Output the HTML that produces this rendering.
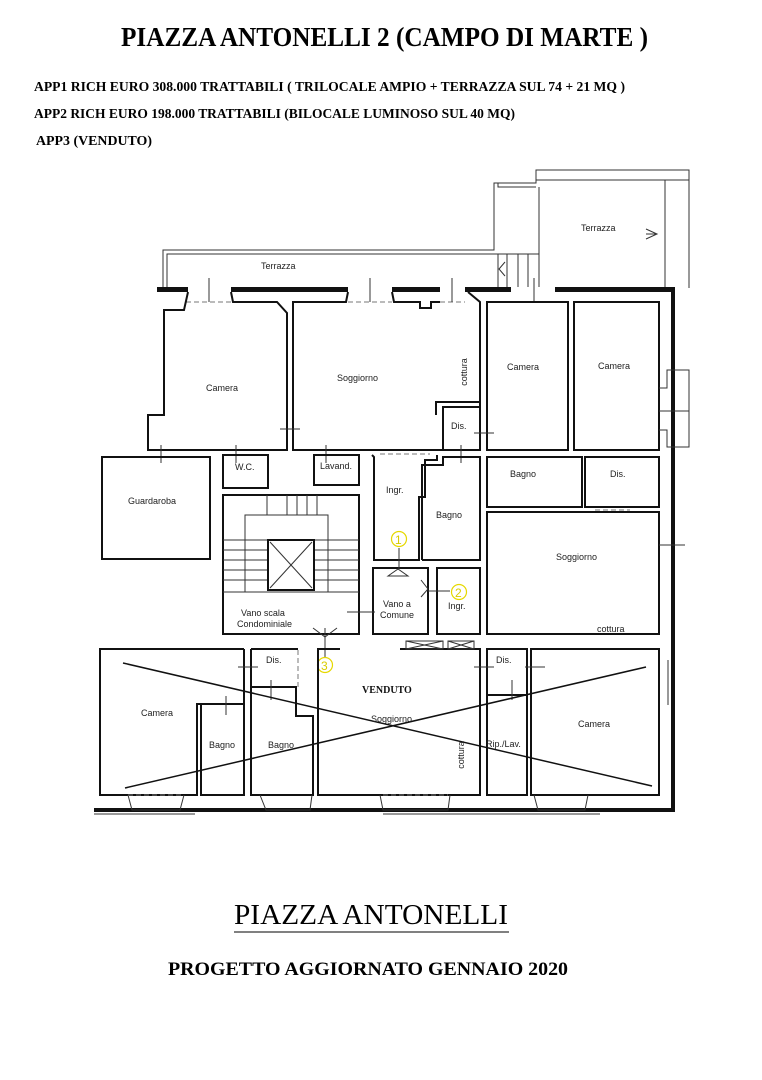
<!DOCTYPE html>
<html><head><meta charset="utf-8"><style>
html,body{margin:0;padding:0;background:#fff;width:762px;height:1080px;overflow:hidden}
svg{display:block}
.t{font-family:"Liberation Serif",serif;font-weight:bold;fill:#000}
.l{font-family:"Liberation Sans",sans-serif;font-size:9px;fill:#222}
.w{fill:none;stroke:#111;stroke-width:2}
.th{fill:none;stroke:#333;stroke-width:1}
.d{fill:none;stroke:#777;stroke-width:1;stroke-dasharray:5,3}
.y{fill:none;stroke:#e6d800;stroke-width:1.2}
.yt{font-family:"Liberation Sans",sans-serif;font-size:12px;fill:#d9cc00}
</style></head><body>
<svg width="762" height="1080" viewBox="0 0 762 1080" xmlns="http://www.w3.org/2000/svg">
<text class="t" x="121" y="46" font-size="27" textLength="527" lengthAdjust="spacingAndGlyphs">PIAZZA ANTONELLI 2 (CAMPO DI MARTE )</text>
<text class="t" x="34" y="91" font-size="13.5" textLength="591" lengthAdjust="spacingAndGlyphs">APP1 RICH EURO 308.000 TRATTABILI ( TRILOCALE AMPIO + TERRAZZA SUL 74 + 21 MQ )</text>
<text class="t" x="34" y="118" font-size="13.5" textLength="481" lengthAdjust="spacingAndGlyphs">APP2 RICH EURO 198.000 TRATTABILI (BILOCALE LUMINOSO SUL 40 MQ)</text>
<text class="t" x="36" y="145" font-size="13.5" textLength="116" lengthAdjust="spacingAndGlyphs">APP3 (VENDUTO)</text>

<!-- terraces -->
<polyline class="th" points="163,287 163,250 494,250 494,183 536,183 536,170 689,170 689,288"/>
<polyline class="th" points="167,287 167,254 498,254 498,287"/>
<polyline class="th" points="498,183 498,187 536,187"/>
<line class="th" x1="536" y1="180" x2="689" y2="180"/>
<line class="th" x1="539" y1="187" x2="539" y2="287"/>
<line class="th" x1="665" y1="180" x2="665" y2="287"/>
<line class="th" x1="498" y1="254" x2="539" y2="254"/>
<g class="th"><line x1="507" y1="254" x2="507" y2="287"/><line x1="518" y1="254" x2="518" y2="287"/><line x1="528" y1="254" x2="528" y2="287"/></g>
<polyline class="th" points="505,262 499,269 505,276"/>
<polyline class="th" points="646,229 657,234 646,239"/><line class="th" x1="646" y1="234" x2="657" y2="234"/>
<text class="l" x="261" y="269">Terrazza</text>
<text class="l" x="581" y="231">Terrazza</text>

<!-- outer walls -->
<g fill="#111">
<rect x="157" y="287" width="31" height="5"/><rect x="231" y="287" width="117" height="5"/>
<rect x="392" y="287" width="48" height="5"/><rect x="465" y="287" width="46" height="5"/>
<rect x="555" y="287" width="120" height="5"/>
<rect x="671" y="287" width="4" height="525"/>
<rect x="94" y="808" width="581" height="4"/>
</g>
<g class="d"><line x1="186" y1="302" x2="233" y2="302"/><line x1="348" y1="302" x2="392" y2="302"/><line x1="440" y1="302" x2="465" y2="302"/><line x1="511" y1="302" x2="555" y2="302"/></g>
<g class="th"><line x1="209" y1="278" x2="209" y2="302"/><line x1="370" y1="278" x2="370" y2="302"/><line x1="452" y1="278" x2="452" y2="302"/><line x1="534" y1="278" x2="534" y2="302"/></g>

<!-- upper rooms -->
<polyline class="w" points="188,292 184,310 164,310 164,415 148,415 148,450 287,450 287,313 277,302 233,302 231,292"/>
<polyline class="w" points="348,292 346,302 293,302 293,450 480,450 480,302 468,292"/>
<polyline class="w" points="392,292 394,302 420,302 420,308 431,308 431,302 440,302"/>
<polyline class="w" points="480,402 436,402 436,415"/>
<rect class="w" x="443" y="407" width="37" height="43"/>
<rect class="w" x="487" y="302" width="81" height="148"/>
<rect class="w" x="574" y="302" width="85" height="148"/>
<polyline class="th" points="659,388 667,388 667,370 689,370 689,447 667,447 667,430 659,430"/>
<line class="th" x1="659" y1="411" x2="689" y2="411"/>
<g class="th"><line x1="280" y1="429" x2="300" y2="429"/><line x1="474" y1="433" x2="494" y2="433"/><line x1="161" y1="445" x2="161" y2="463"/><line x1="236" y1="445" x2="236" y2="463"/><line x1="326" y1="445" x2="326" y2="463"/><line x1="461" y1="445" x2="461" y2="463"/></g>
<text class="l" x="206" y="391">Camera</text>
<text class="l" x="337" y="381">Soggiorno</text>
<text class="l" x="467" y="372" transform="rotate(-90 467 372)" text-anchor="middle">cottura</text>
<text class="l" x="507" y="370">Camera</text>
<text class="l" x="598" y="369">Camera</text>
<text class="l" x="451" y="429">Dis.</text>

<!-- middle -->
<rect class="w" x="102" y="457" width="108" height="102"/>
<rect class="w" x="223" y="455" width="45" height="33"/>
<rect class="w" x="314" y="455" width="45" height="30"/>
<polyline class="w" points="372,455 374,457 374,560 419,560 419,497 425,497 425,460 437,460 437,455"/>
<polyline class="w" points="422,560 480,560 480,457 443,457 443,465 422,465 422,560"/>
<line class="d" x1="380" y1="454" x2="430" y2="454"/>
<rect class="w" x="487" y="457" width="95" height="50"/>
<rect class="w" x="585" y="457" width="74" height="50"/>
<line class="d" x1="595" y1="510" x2="630" y2="510"/>
<text class="l" x="128" y="504">Guardaroba</text>
<text class="l" x="235" y="470">W.C.</text>
<text class="l" x="320" y="469">Lavand.</text>
<text class="l" x="386" y="493">Ingr.</text>
<text class="l" x="436" y="518">Bagno</text>
<text class="l" x="510" y="477">Bagno</text>
<text class="l" x="610" y="477">Dis.</text>

<!-- stairwell -->
<rect class="w" x="223" y="495" width="136" height="139"/>
<rect class="th" x="245" y="515" width="83" height="77"/>
<g class="th">
<line x1="223" y1="540" x2="359" y2="540"/><line x1="223" y1="550" x2="268" y2="550"/><line x1="223" y1="560" x2="268" y2="560"/><line x1="223" y1="570" x2="268" y2="570"/><line x1="223" y1="580" x2="268" y2="580"/>
<line x1="314" y1="550" x2="359" y2="550"/><line x1="314" y1="560" x2="359" y2="560"/><line x1="314" y1="570" x2="359" y2="570"/><line x1="314" y1="580" x2="359" y2="580"/>
<line x1="267" y1="495" x2="267" y2="515"/><line x1="287" y1="495" x2="287" y2="515"/><line x1="297" y1="495" x2="297" y2="515"/><line x1="307" y1="495" x2="307" y2="515"/><line x1="317" y1="495" x2="317" y2="515"/>
<line x1="223" y1="592" x2="359" y2="592"/>
</g>
<rect class="w" x="268" y="540" width="46" height="50"/>
<line class="th" x1="270" y1="542" x2="312" y2="588"/><line class="th" x1="312" y1="542" x2="270" y2="588"/>
<rect class="w" x="373" y="568" width="55" height="66"/>
<rect class="w" x="437" y="568" width="43" height="66"/>
<rect class="w" x="487" y="512" width="172" height="122"/>
<line class="th" x1="347" y1="612" x2="375" y2="612"/>
<line class="th" x1="659" y1="545" x2="685" y2="545"/>
<g class="th"><path d="M388,576 L398,569 L408,576 Z"/><path d="M421,580 L428,589 L421,597"/><path d="M313,628 L325,637 L337,628"/></g>
<line class="th" x1="399" y1="548" x2="399" y2="569"/><line class="th" x1="428" y1="591" x2="450" y2="591"/><line class="th" x1="325" y1="628" x2="325" y2="657"/>
<circle class="y" cx="399" cy="539" r="7.5"/><text class="yt" x="395" y="544">1</text>
<circle class="y" cx="459" cy="592" r="7.5"/><text class="yt" x="455" y="597">2</text>
<circle class="y" cx="325" cy="665" r="7.5"/><text class="yt" x="321" y="670">3</text>
<text class="l" x="241" y="616">Vano scala</text><text class="l" x="237" y="627">Condominiale</text>
<text class="l" x="383" y="607">Vano a</text><text class="l" x="380" y="618">Comune</text>
<text class="l" x="448" y="609">Ingr.</text>
<text class="l" x="556" y="560">Soggiorno</text>
<text class="l" x="597" y="632">cottura</text>

<!-- bottom -->
<polyline class="w" points="244,649 100,649 100,795 197,795 197,704 244,704 244,649"/>
<rect class="w" x="201" y="704" width="43" height="91"/>
<polyline class="w" points="251,649 298,649"/>
<polyline class="w" points="251,649 251,795 313,795 313,716 296,716 296,687 251,687"/>
<polyline class="w" points="340,649 318,649 318,795 480,795 480,649 400,649"/>
<rect class="w" x="487" y="649" width="40" height="46"/>
<rect class="w" x="487" y="695" width="40" height="100"/>
<rect class="w" x="531" y="649" width="128" height="146"/>
<rect class="th" x="406" y="641" width="37" height="8"/><rect class="th" x="448" y="641" width="26" height="8"/>
<path class="th" d="M406,641 L443,649 M443,641 L406,649 M448,641 L474,649 M474,641 L448,649"/>
<line class="d" x1="298" y1="650" x2="298" y2="690"/>
<g class="th"><line x1="238" y1="667" x2="258" y2="667"/><line x1="474" y1="667" x2="494" y2="667"/><line x1="525" y1="667" x2="545" y2="667"/><line x1="226" y1="696" x2="226" y2="715"/><line x1="271" y1="680" x2="271" y2="700"/><line x1="512" y1="680" x2="512" y2="700"/><line x1="668" y1="660" x2="668" y2="705"/></g>
<g class="th"><path d="M128,795 L132,810 L180,810 L184,795"/><path d="M260,795 L266,810 L310,810 L312,795"/><path d="M380,795 L383,810 L448,810 L450,795"/><path d="M534,795 L538,810 L585,810 L588,795"/><path d="M94,814 L195,814 M383,814 L600,814"/></g>
<g class="d"><line x1="128" y1="795" x2="184" y2="795"/><line x1="383" y1="795" x2="448" y2="795"/></g>
<line stroke="#111" stroke-width="1.5" x1="123" y1="663" x2="652" y2="786"/>
<line stroke="#111" stroke-width="1.5" x1="125" y1="788" x2="646" y2="667"/>
<text x="362" y="693" font-family="Liberation Serif,serif" font-weight="bold" font-size="10" fill="#111">VENDUTO</text>
<text class="l" x="371" y="722">Soggiorno</text>
<text class="l" x="266" y="663">Dis.</text>
<text class="l" x="496" y="663">Dis.</text>
<text class="l" x="141" y="716">Camera</text>
<text class="l" x="209" y="748">Bagno</text>
<text class="l" x="268" y="748">Bagno</text>
<text class="l" x="486" y="747">Rip./Lav.</text>
<text class="l" x="578" y="727">Camera</text>
<text class="l" x="464" y="755" transform="rotate(-90 464 755)" text-anchor="middle">cottura</text>

<text x="371" y="924" text-anchor="middle" font-family="Liberation Serif,serif" font-size="28" textLength="274" lengthAdjust="spacingAndGlyphs" fill="#000">PIAZZA ANTONELLI</text>
<line x1="234" y1="932" x2="509" y2="932" stroke="#000" stroke-width="1"/>
<text class="t" x="168" y="975" font-size="19" textLength="400" lengthAdjust="spacingAndGlyphs">PROGETTO AGGIORNATO GENNAIO 2020</text>
</svg>
</body></html>
